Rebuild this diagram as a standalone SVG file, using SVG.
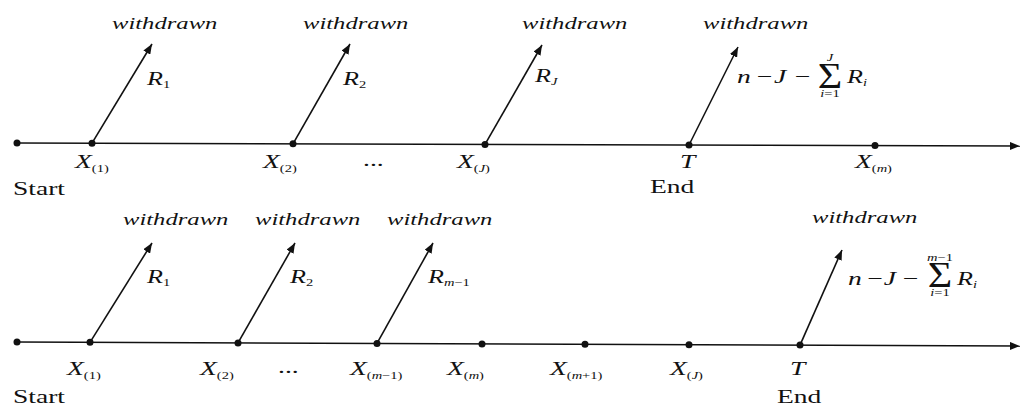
<svg xmlns="http://www.w3.org/2000/svg" width="1021" height="410" viewBox="0 0 1021 410">
<style>
text{font-family:"Liberation Serif","Times New Roman",serif;fill:#111}
.w{font-size:17px;font-style:italic}
.m{font-size:19px;font-style:italic}
.r{font-size:18px;font-style:italic}
.lbl{font-size:19px}
.sub{font-size:10px;font-style:normal}
.subi{font-size:10px;font-style:italic}
.lim{font-size:10px;font-style:italic}
.sig{font-size:35px;font-style:normal}
.line{stroke:#111;stroke-width:1.6;fill:none}
.dot{fill:#111}
</style>
<defs>
<marker id="ah" viewBox="0 0 10 8" refX="10" refY="4" markerWidth="10" markerHeight="8" markerUnits="userSpaceOnUse" orient="auto"><path d="M0,0 L10,4 L0,8 z" fill="#111"/></marker>
</defs>
<rect width="1021" height="410" fill="#fff"/>
<g id="connectors">
<line class="line" x1="17" y1="143" x2="1020" y2="146" marker-end="url(#ah)"/>
<line class="line" x1="92" y1="143.2" x2="152" y2="44" marker-end="url(#ah)"/>
<line class="line" x1="293" y1="143.8" x2="350" y2="44" marker-end="url(#ah)"/>
<line class="line" x1="485" y1="144.4" x2="542" y2="45" marker-end="url(#ah)"/>
<line class="line" x1="689" y1="145" x2="738" y2="47" marker-end="url(#ah)"/>
<line class="line" x1="17" y1="342" x2="1020" y2="346" marker-end="url(#ah)"/>
<line class="line" x1="90" y1="342.3" x2="152" y2="243" marker-end="url(#ah)"/>
<line class="line" x1="238" y1="342.9" x2="295" y2="243" marker-end="url(#ah)"/>
<line class="line" x1="377" y1="343.4" x2="433" y2="243" marker-end="url(#ah)"/>
<line class="line" x1="800" y1="345.1" x2="842" y2="250" marker-end="url(#ah)"/>
</g>
<g id="top-start">
<circle class="dot" cx="17" cy="143" r="3.5"/>
<text class="lbl" transform="matrix(1.45 0 0 1 13 195)">Start</text>
</g>
<g id="top-x1">
<circle class="dot" cx="92" cy="143.2" r="3.5"/>
<text class="m" transform="matrix(1.45 0 0 1 75 168)">X<tspan class="sub" dy="4">(1)</tspan></text>
<text class="r" transform="matrix(1.45 0 0 1 147 85)">R<tspan class="sub" dy="3">1</tspan></text>
<text class="w" transform="matrix(1.45 0 0 1 112 29)">withdrawn</text>
</g>
<g id="top-x2">
<circle class="dot" cx="293" cy="143.8" r="3.5"/>
<text class="m" transform="matrix(1.45 0 0 1 263 168)">X<tspan class="sub" dy="4">(2)</tspan></text>
<text class="r" transform="matrix(1.45 0 0 1 343 85)">R<tspan class="sub" dy="3">2</tspan></text>
<text class="w" transform="matrix(1.45 0 0 1 303 29)">withdrawn</text>
</g>
<text class="lbl" transform="matrix(1.45 0 0 1 363 166)">...</text>
<g id="top-xJ">
<circle class="dot" cx="485" cy="144.4" r="3.5"/>
<text class="m" transform="matrix(1.45 0 0 1 457 168)">X<tspan class="sub" dy="4">(<tspan class="subi">J</tspan>)</tspan></text>
<text class="r" transform="matrix(1.45 0 0 1 535 82)">R<tspan class="subi" dy="3">J</tspan></text>
<text class="w" transform="matrix(1.45 0 0 1 522 29)">withdrawn</text>
</g>
<g id="top-T">
<circle class="dot" cx="689" cy="145" r="3.5"/>
<text class="m" transform="matrix(1.45 0 0 1 680 168)">T</text>
<text class="lbl" transform="matrix(1.45 0 0 1 650 193)">End</text>
<text class="w" transform="matrix(1.45 0 0 1 703 29)">withdrawn</text>
<text class="m" transform="matrix(1.45 0 0 1 737 83)" x="0 12.5 25.5 38.6">n−J−</text>
<text class="sig" transform="matrix(1.2 0 0 1 830 88)" text-anchor="middle">Σ</text>
<text class="lim" transform="matrix(1.45 0 0 1 830 61)" text-anchor="middle">J</text>
<text class="lim" transform="matrix(1.45 0 0 1 830 97)" text-anchor="middle">i<tspan font-style="normal">=1</tspan></text>
<text class="r" transform="matrix(1.45 0 0 1 847 83)">R<tspan class="subi" dy="3">i</tspan></text>
</g>
<g id="top-xm">
<circle class="dot" cx="875" cy="145.6" r="3.5"/>
<text class="m" transform="matrix(1.45 0 0 1 855 168)">X<tspan class="sub" dy="4">(<tspan class="subi">m</tspan>)</tspan></text>
</g>
<g id="bot-start">
<circle class="dot" cx="17" cy="342" r="3.5"/>
<text class="lbl" transform="matrix(1.45 0 0 1 13 403)">Start</text>
</g>
<g id="bot-x1">
<circle class="dot" cx="90" cy="342.3" r="3.5"/>
<text class="m" transform="matrix(1.45 0 0 1 67 375)">X<tspan class="sub" dy="4">(1)</tspan></text>
<text class="r" transform="matrix(1.45 0 0 1 147 283)">R<tspan class="sub" dy="3">1</tspan></text>
<text class="w" transform="matrix(1.45 0 0 1 123 225)">withdrawn</text>
</g>
<g id="bot-x2">
<circle class="dot" cx="238" cy="342.9" r="3.5"/>
<text class="m" transform="matrix(1.45 0 0 1 200 375)">X<tspan class="sub" dy="4">(2)</tspan></text>
<text class="r" transform="matrix(1.45 0 0 1 290 283)">R<tspan class="sub" dy="3">2</tspan></text>
<text class="w" transform="matrix(1.45 0 0 1 255 225)">withdrawn</text>
</g>
<text class="lbl" transform="matrix(1.45 0 0 1 278 373)">...</text>
<g id="bot-xm1">
<circle class="dot" cx="377" cy="343.4" r="3.5"/>
<text class="m" transform="matrix(1.45 0 0 1 350 375)">X<tspan class="sub" dy="4">(<tspan class="subi">m</tspan>−1)</tspan></text>
<text class="r" transform="matrix(1.45 0 0 1 428 283)">R<tspan class="subi" dy="3">m<tspan font-style="normal">−1</tspan></tspan></text>
<text class="w" transform="matrix(1.45 0 0 1 387 225)">withdrawn</text>
</g>
<g id="bot-xm">
<circle class="dot" cx="482" cy="343.9" r="3.5"/>
<text class="m" transform="matrix(1.45 0 0 1 447 375)">X<tspan class="sub" dy="4">(<tspan class="subi">m</tspan>)</tspan></text>
</g>
<g id="bot-xmp1">
<circle class="dot" cx="585" cy="344.3" r="3.5"/>
<text class="m" transform="matrix(1.45 0 0 1 550 375)">X<tspan class="sub" dy="4">(<tspan class="subi">m</tspan>+1)</tspan></text>
</g>
<g id="bot-xJ">
<circle class="dot" cx="689" cy="344.7" r="3.5"/>
<text class="m" transform="matrix(1.45 0 0 1 670 375)">X<tspan class="sub" dy="4">(<tspan class="subi">J</tspan>)</tspan></text>
</g>
<g id="bot-T">
<circle class="dot" cx="800" cy="345.1" r="3.5"/>
<text class="m" transform="matrix(1.45 0 0 1 790 375)">T</text>
<text class="lbl" transform="matrix(1.45 0 0 1 777 403)">End</text>
<text class="w" transform="matrix(1.45 0 0 1 812 223)">withdrawn</text>
<text class="m" transform="matrix(1.45 0 0 1 848 285)" x="0 12 24.6 36.5">n−J−</text>
<text class="sig" transform="matrix(1.2 0 0 1 940 287)" text-anchor="middle">Σ</text>
<text class="lim" transform="matrix(1.45 0 0 1 940 261)" text-anchor="middle">m<tspan font-style="normal">−1</tspan></text>
<text class="lim" transform="matrix(1.45 0 0 1 940 296)" text-anchor="middle">i<tspan font-style="normal">=1</tspan></text>
<text class="r" transform="matrix(1.45 0 0 1 957 285)">R<tspan class="subi" dy="3">i</tspan></text>
</g>
</svg>
